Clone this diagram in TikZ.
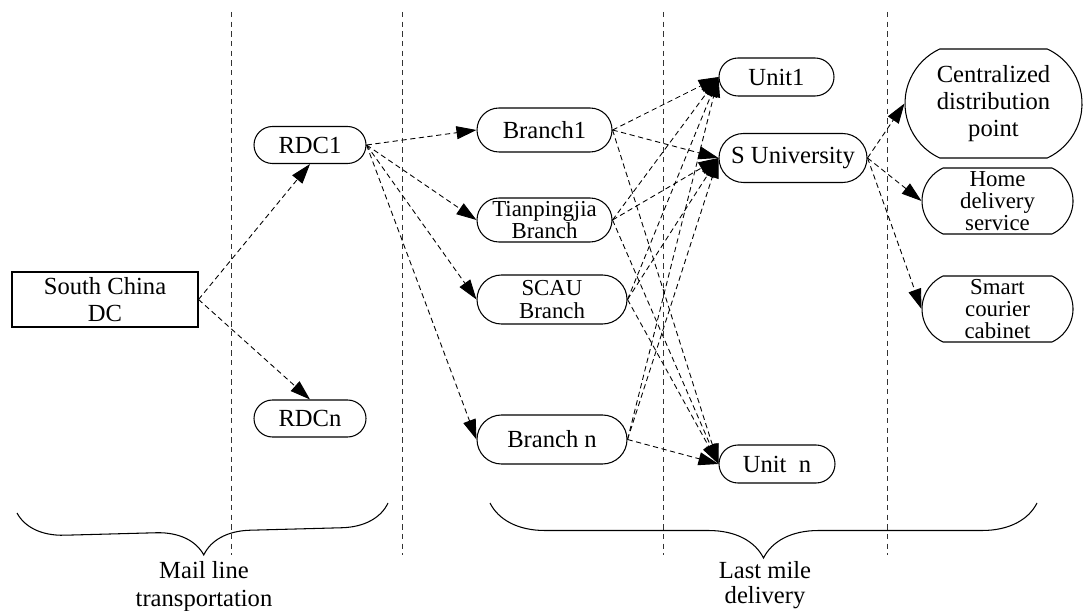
\documentclass[tikz,border=0pt]{standalone}
\usepackage{fontspec}
\setmainfont{Liberation Serif}
\usetikzlibrary{shapes.misc,arrows.meta,decorations.pathreplacing}
\tikzstyle{rr}=[rounded rectangle,draw=black,line width=0.6pt,inner sep=0pt,
  align=center,font=\fontsize{14}{15.3}\selectfont]
\tikzstyle{rb}=[rr,rounded rectangle arc length=130]
\tikzstyle{bx}=[rectangle,draw=black,line width=0.6pt,inner sep=0pt,
  align=center,font=\fontsize{14}{15}\selectfont]
\tikzstyle{tight}=[font=\fontsize{13}{12.6}\selectfont]
\tikzstyle{ln}=[line width=0.5pt,dash pattern=on 3pt off 2pt,
  -{Triangle[length=0.4cm,width=0.26cm]}]
\tikzstyle{sep}=[line width=0.5pt,dash pattern=on 3pt off 2.5pt,black!80]
\tikzstyle{brc}=[line width=0.6pt,decorate]
\tikzstyle{none}=[align=center]

\begin{document}
\begin{tikzpicture}
  \useasboundingbox (0, 0) rectangle (21.66, -12.22);
  % columns
  \draw [style=sep] (4.62, -0.24) -- (4.62, -11.1);
  \draw [style=sep] (8.04, -0.24) -- (8.04, -11.1);
  \draw [style=sep] (13.26, -0.24) -- (13.26, -11.1);
  \draw [style=sep] (17.74, -0.24) -- (17.74, -11.1);
  \node [style=bx, minimum width=3.72cm, minimum height=1.1cm] (0) at (2.1, -5.99) {South China\\DC};
  \node [style=rr, minimum width=2.24cm, minimum height=0.74cm] (1) at (6.2, -2.9) {RDC1};
  \node [style=rr, minimum width=2.24cm, minimum height=0.74cm] (2) at (6.2, -8.37) {RDCn};
  \node [style=rr, minimum width=2.7cm, minimum height=0.88cm] (3) at (10.89, -2.6) {Branch1};
  \node [style=rr, tight, minimum width=2.7cm, minimum height=0.88cm] (4) at (10.89, -4.4) {Tianpingjia\\Branch};
  \node [style=rr, tight, minimum width=3.0cm, minimum height=0.98cm] (5) at (11.04, -5.99) {SCAU\\Branch};
  \node [style=rr, minimum width=3.0cm, minimum height=0.98cm] (6) at (11.04, -8.79) {Branch n};
  \node [style=rr, minimum width=2.3cm, minimum height=0.76cm] (7) at (15.53, -1.54) {Unit1};
  \node [style=rr, minimum width=2.96cm, minimum height=0.98cm] (8) at (15.86, -3.16) {S University};
  \node [style=rr, minimum width=2.32cm, minimum height=0.76cm] (9) at (15.54, -9.28) {Unit\ \ n};
  \node [style=rb, minimum width=3.54cm, minimum height=2.18cm] (10) at (19.87, -2.07) {Centralized\\distribution\\point};
  \node [style=rb, tight, minimum width=3.02cm, minimum height=1.32cm] (11) at (19.95, -4.02) {Home\\delivery\\service};
  \node [style=rb, tight, minimum width=3.02cm, minimum height=1.32cm] (12) at (19.95, -6.18) {Smart\\courier\\cabinet};
  \node [style=none, font=\fontsize{14}{16}\selectfont] (13) at (4.08, -11.74) {Mail line\\transportation};
  \node [style=none, font=\fontsize{14}{14.4}\selectfont] (14) at (15.3, -11.7) {Last mile\\delivery};
  \coordinate (15) at (7.76, -10.06);
  \coordinate (16) at (0.34, -10.26);
  \coordinate (17) at (20.74, -10.06);
  \coordinate (18) at (9.8, -10.06);
  \draw [style=brc, decoration={brace, amplitude=0.94cm}] (15) -- (16);
  \draw [style=brc, decoration={brace, amplitude=1.1cm}] (17) -- (18);
  \draw [style=ln] (0.east) to (1.south);
  \draw [style=ln] (0.east) to (2.north);
  \draw [style=ln] (1.east) to (3.west);
  \draw [style=ln] (1.east) to (4.west);
  \draw [style=ln] (1.east) to (5.west);
  \draw [style=ln] (1.east) to (6.west);
  \draw [style=ln] (3.east) to (7.west);
  \draw [style=ln] (3.east) to (8.west);
  \draw [style=ln] (3.east) to (9.west);
  \draw [style=ln] (4.east) to (7.west);
  \draw [style=ln] (4.east) to (8.west);
  \draw [style=ln] (4.east) to (9.west);
  \draw [style=ln] (5.east) to (7.west);
  \draw [style=ln] (5.east) to (8.west);
  \draw [style=ln] (5.east) to (9.west);
  \draw [style=ln] (6.east) to (7.west);
  \draw [style=ln] (6.east) to (8.west);
  \draw [style=ln] (6.east) to (9.west);
  \draw [style=ln] (8.east) to (10.west);
  \draw [style=ln] (8.east) to (11.west);
  \draw [style=ln] (8.east) to (12.west);
\end{tikzpicture}
\end{document}
